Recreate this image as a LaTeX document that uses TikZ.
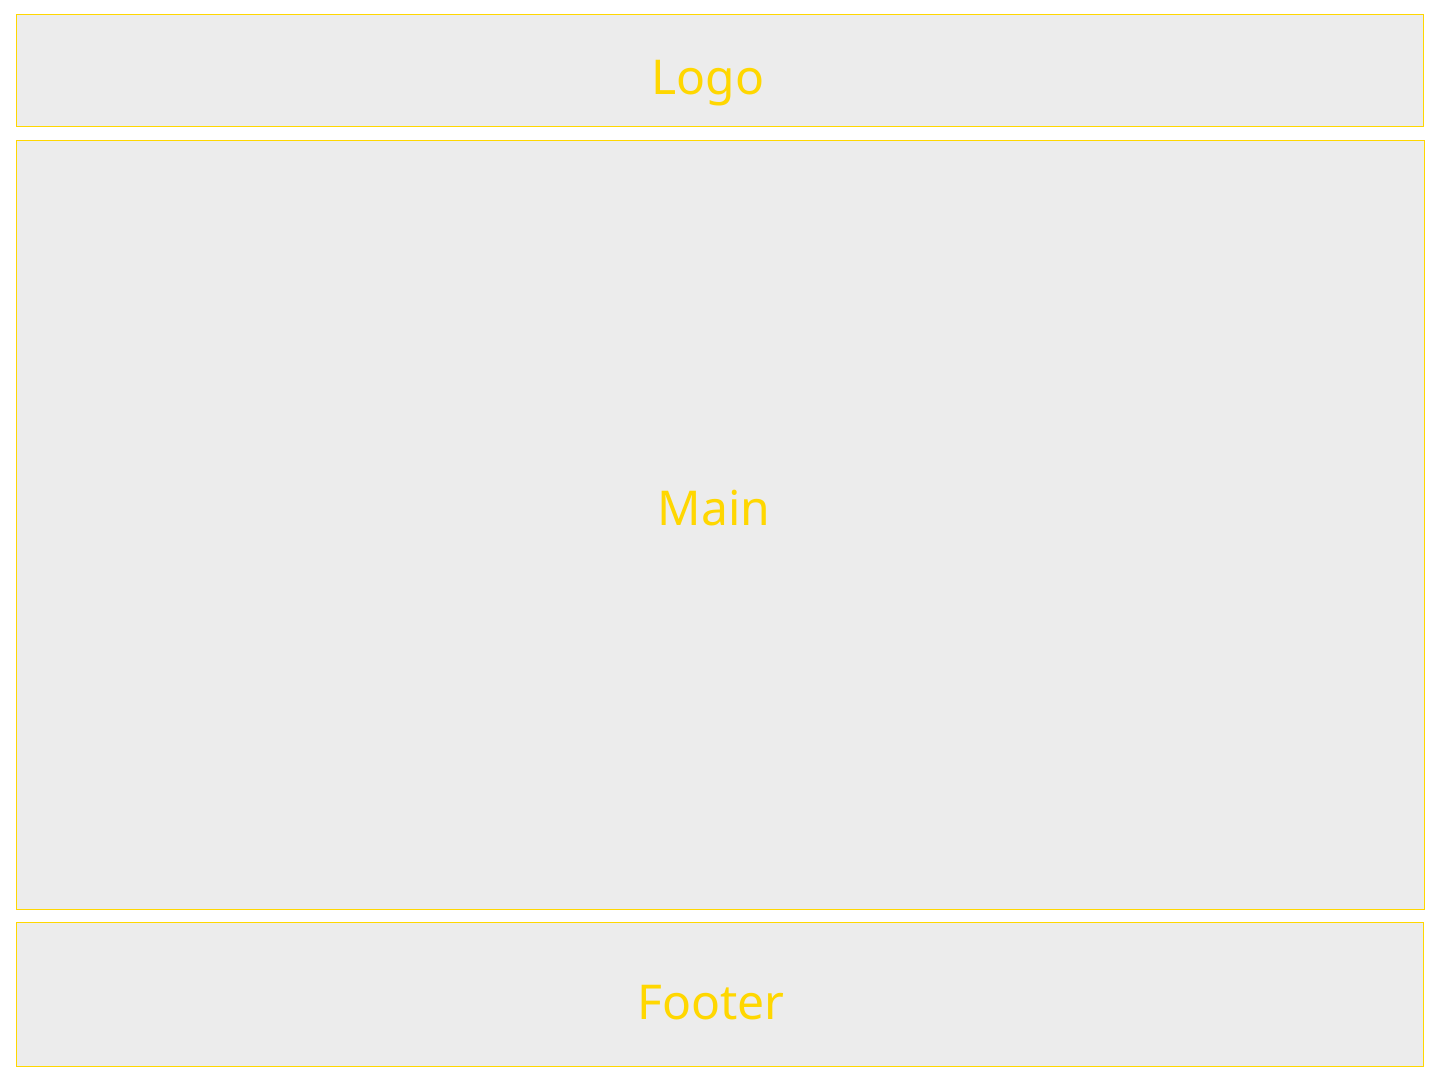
\documentclass[tikz,border=0pt]{standalone}
\usepackage{fontspec}
\setmainfont{Noto Sans}
\definecolor{gold}{HTML}{FFD700}
\definecolor{boxfill}{HTML}{ECECEC}
\begin{document}
\begin{tikzpicture}[x=0.75pt,y=-0.75pt,
  panel/.style={draw=gold,fill=boxfill,line width=0.75pt},
  lbl/.style={text=gold,font=\fontsize{36}{40}\selectfont,anchor=base,inner sep=0pt}]
\useasboundingbox (0,0) rectangle (1440,1083);
\fill[white] (0,0) rectangle (1440,1083);
\draw[panel] (16.5,14.5) rectangle (1423.5,126.5);
\draw[panel] (16.5,140.5) rectangle (1424.5,909.5);
\draw[panel] (16.5,922.5) rectangle (1423.5,1066.5);
\node[lbl] (logo) at (708,94) {Logo};
\node[lbl] (main) at (714,525) {Main};
\node[lbl] (footer) at (711,1019) {Footer};
\end{tikzpicture}
\end{document}
